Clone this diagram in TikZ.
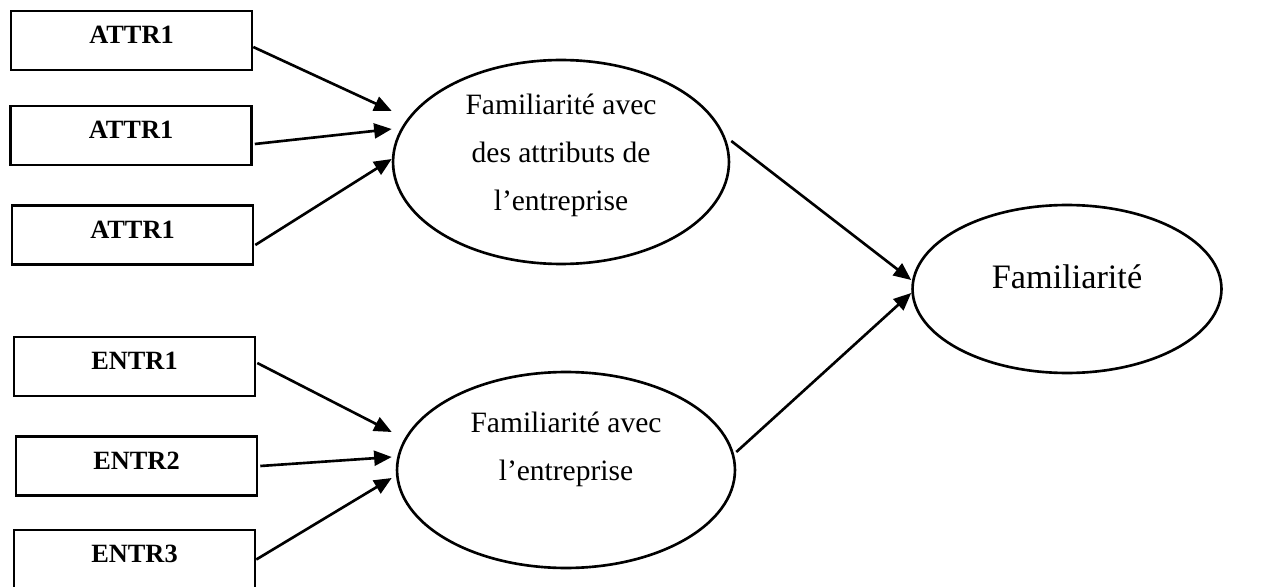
\documentclass[tikz,border=0pt]{standalone}
\usepackage{fontspec}
\setmainfont{Liberation Serif}
\usetikzlibrary{shapes.geometric,arrows.meta,calc}

\begin{document}
\begin{tikzpicture}[
    x=0.02cm, y=-0.02cm,
    line width=1.5pt,
    boite/.style={draw, rectangle, minimum width=4.82cm, minimum height=1.18cm,
      text depth=0.22cm, font=\fontsize{15}{17}\selectfont\bfseries},
    bulle/.style={draw, ellipse, inner sep=0pt},
    texte/.style={align=center, font=\fontsize{16.8}{27.3}\selectfont},
    fleche/.style={-{Triangle[length=10pt,width=8.5pt]}}
  ]
  \useasboundingbox (0,0) rectangle (1266,587);

  % indicateurs des attributs
  \node[boite] (a1) at (131.5,40.5) {ATTR1};
  \node[boite] (a2) at (131,135.5) {ATTR1};
  \node[boite] (a3) at (132.5,235) {ATTR1};

  % indicateurs de l'entreprise
  \node[boite] (b1) at (134.5,366.5) {ENTR1};
  \node[boite] (b2) at (136.5,466) {ENTR2};
  \node[boite] (b3) at (134.5,559.5) {ENTR3};

  % variables latentes
  \node[bulle, minimum width=6.72cm, minimum height=4.08cm] (e1) at (561,162) {};
  \node[texte] (t1) at (561,155) {Familiarité avec\\des attributs de\\l’entreprise};
  \node[bulle, minimum width=6.76cm, minimum height=3.92cm] (e2) at (566,470) {};
  \node[texte] (t2) at (566,449) {Familiarité avec\\l’entreprise};
  \node[bulle, minimum width=6.18cm, minimum height=3.36cm] (f) at (1067,289) {};
  \node[texte, font=\fontsize{19.5}{23}\selectfont] (tf) at (1067,277) {Familiarité};

  % flèches vers les variables latentes
  \draw[fleche] ($(a1.east)+(0,6.5)$) -- ($(e1.west)+(0,-51)$);
  \draw[fleche] ($(a2.east)+(2,8.5)$) -- ($(e1.west)+(0,-33)$);
  \draw[fleche] ($(a3.east)+(1,10)$) -- ($(e1.west)+(0,-3)$);
  \draw[fleche] ($(b1.east)+(1,-3.5)$) -- ($(e2.west)+(-4,-38)$);
  \draw[fleche] ($(b2.east)+(2,0)$) -- ($(e2.west)+(-4,-13)$);
  \draw[fleche] (b3.east) -- ($(e2.west)+(-4,8)$);

  % flèches vers la familiarité
  \draw[fleche] ($(e1.east)+(1,-21)$) -- ($(f.west)+(0,-9)$);
  \draw[fleche] ($(e2.east)+(0,-18)$) -- ($(f.west)+(0,4)$);
\end{tikzpicture}
\end{document}
